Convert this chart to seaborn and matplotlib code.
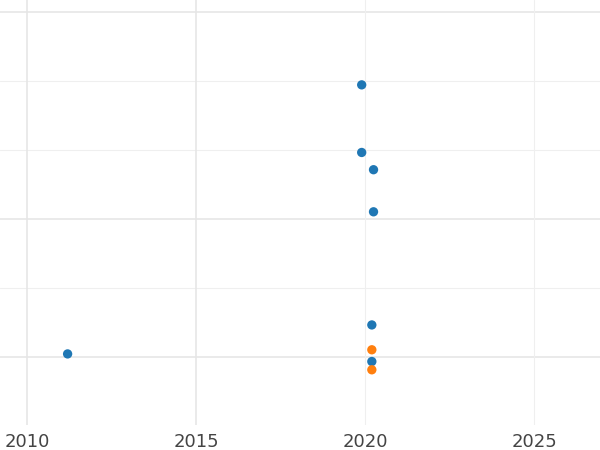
import matplotlib
matplotlib.use('Agg')
import matplotlib.pyplot as plt
import seaborn as sns
import pandas as pd

years = [2011.2, 2019.9, 2019.9, 2020.25, 2020.25, 2020.2, 2020.2, 2020.2, 2020.2]
values = [0.04, 3.94, 2.96, 2.71, 2.10, 0.46, 0.10, -0.07, -0.19]
groups = ['a', 'a', 'a', 'a', 'a', 'a', 'b', 'a', 'b']

df = pd.DataFrame({'year': years, 'value': values, 'group': groups})

sns.set_style('white')
fig = plt.figure(figsize=(6, 4.5), dpi=100)
ax = fig.add_axes([0, 0.0556, 1, 0.9444])

for y in [-1, 0, 1, 2, 3, 4, 5]:
    ax.axhline(y, color='#e6e6e6' if y in (0, 2, 5) else '#efefef', lw=1.2 if y in (0, 2, 5) else 0.8, zorder=0)
for x in [2010, 2015, 2020, 2025]:
    ax.axvline(x, color='#e6e6e6' if x in (2010, 2015) else '#efefef', lw=1.2 if x in (2010, 2015) else 0.8, zorder=0)

sns.scatterplot(data=df, x='year', y='value', hue='group',
                palette={'a': '#1f77b4', 'b': '#ff7f0e'}, s=45, edgecolor='none',
                legend=False, ax=ax, zorder=3)

ax.set_xlim(2009.2, 2026.95)
ax.set_ylim(-0.99, 5.17)
ax.set_xticks([2010, 2015, 2020, 2025])
ax.set_yticks([])
ax.set_xlabel('')
ax.set_ylabel('')
ax.tick_params(axis='x', length=0, labelsize=13, colors='#444444', pad=6)
for s in ax.spines.values():
    s.set_visible(False)

fig.savefig('out.png')
